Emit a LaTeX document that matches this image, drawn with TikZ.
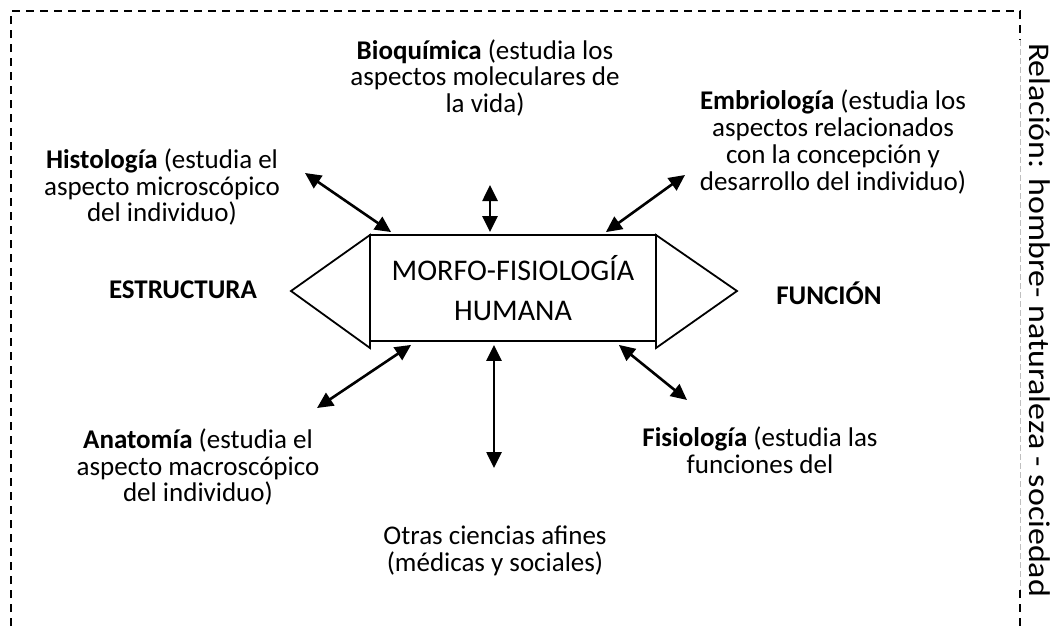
\documentclass[tikz,border=0pt]{standalone}
\usepackage{fontspec}
\setmainfont{Carlito}
\newfontfamily\widefont[FakeStretch=1.13]{Carlito}
\usetikzlibrary{arrows.meta,calc}
\begin{document}
\begin{tikzpicture}[x=1pt,y=-1pt,
  lbl/.style={align=center,inner sep=0pt,font=\fontsize{27}{26.8}\selectfont},
  side/.style={inner sep=0pt,font=\fontsize{27}{27}\selectfont\bfseries},
  link/.style={line width=2.6pt,{Triangle[length=16pt,width=15pt]}-{Triangle[length=16pt,width=15pt]}},
  shapeline/.style={line width=1.8pt,line join=miter},
  border/.style={line width=2pt,dash pattern=on 8pt off 6pt}]
\useasboundingbox (0,0) rectangle (1057,627);
% border
\draw[border] (11,640) -- (11,11) -- (1020,11) -- (1020,40);
\draw[border] (1020,590) -- (1020,640);
\draw[gray!50,line width=0.6pt,dash pattern=on 6pt off 3pt] (1020,40) -- (1020,590);
% triangles
\draw[shapeline] (370,235) -- (291,291) -- (370,348) -- cycle;
\draw[shapeline] (656,235) -- (737,291) -- (656,348) -- cycle;
% central box
\node[draw,fill=white,line width=1.8pt,minimum width=286pt,minimum height=106pt,inner sep=0pt,
      align=center,font=\fontsize{30}{40}\selectfont] (core) at (513,288)
      {MORFO-FISIOLOGÍA\\HUMANA};
% labels
\node[lbl] (bio) at (485,78) {\textbf{Bioquímica} (estudia los\\aspectos moleculares de\\la vida)};
\node[lbl] (emb) at (833,142) {\textbf{Embriología} (estudia los\\aspectos relacionados\\con la concepción y\\desarrollo del individuo)};
\node[lbl] (his) at (162,187) {\textbf{Histología} (estudia el\\aspecto microscópico\\del individuo)};
\node[lbl] (ana) at (198,467) {\textbf{Anatomía} (estudia el\\aspecto macroscópico\\del individuo)};
\node[lbl] (fis) at (760,450) {\textbf{Fisiología} (estudia las\\funciones del};
\node[lbl] (otr) at (495,551) {Otras ciencias afines\\(médicas y sociales)};
\node[side] (est) at (183,290) {ESTRUCTURA};
\node[side] (fun) at (829,293) {FUNCIÓN};
\node[inner sep=0pt,rotate=-90,font=\widefont\fontsize{30}{32}\selectfont] (rel) at (1040,320) {Relación: hombre- naturaleza - sociedad};
% connector ends
\coordinate (hisE) at (305,173);
\coordinate (bioE) at (490,185);
\coordinate (embE) at (685,175);
\coordinate (anaE) at (317,408);
\coordinate (otrE) at (494,468);
\coordinate (fisE) at (687,400);
\coordinate (hisC) at ($(core.north west)+(22,-2)$);
\coordinate (bioC) at ($(core.north)+(-23,-2)$);
\coordinate (embC) at ($(core.north east)+(-51,-2)$);
\coordinate (anaC) at ($(core.south west)+(42,3)$);
\coordinate (otrC) at ($(core.south)+(-19,3)$);
\coordinate (fisC) at ($(core.south east)+(-38,3)$);
\draw[link] (hisE) -- (hisC);
\draw[link] (bioE) -- (bioC);
\draw[link] (embE) -- (embC);
\draw[link] (anaE) -- (anaC);
\draw[link] (otrE) -- (otrC);
\draw[link] (fisE) -- (fisC);
\end{tikzpicture}
\end{document}
